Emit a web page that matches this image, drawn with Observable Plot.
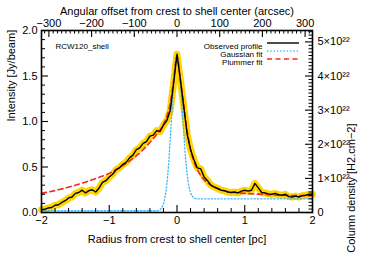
<!DOCTYPE html>
<html><head><meta charset="utf-8">
<script src="https://cdn.jsdelivr.net/npm/d3@7"></script>
<script src="https://cdn.jsdelivr.net/npm/@observablehq/plot@0.6"></script>
<style>body{margin:0;background:#fff}</style>
</head><body><div id="chart"></div>
<script>
// Observed profile (radius in pc, intensity in Jy/beam)
const radius = [-2.00,-1.95,-1.90,-1.85,-1.80,-1.75,-1.70,-1.65,-1.60,-1.55,-1.50,-1.45,-1.40,-1.35,-1.30,-1.25,-1.20,-1.15,-1.10,-1.05,-1.00,-0.95,-0.90,-0.85,-0.80,-0.75,-0.70,-0.65,-0.60,-0.55,-0.50,-0.45,-0.40,-0.35,-0.30,-0.25,-0.20,-0.15,-0.10,-0.05,0.00,0.05,0.10,0.15,0.20,0.25,0.30,0.35,0.40,0.45,0.50,0.55,0.60,0.65,0.70,0.75,0.80,0.85,0.90,0.95,1.00,1.05,1.10,1.15,1.20,1.25,1.30,1.35,1.40,1.45,1.50,1.55,1.60,1.65,1.70,1.75,1.80,1.85,1.90,1.95,2.00];
const observed = [0.03,0.035,0.05,0.055,0.08,0.085,0.11,0.13,0.16,0.17,0.21,0.22,0.245,0.215,0.24,0.25,0.225,0.27,0.33,0.35,0.39,0.42,0.47,0.49,0.53,0.55,0.60,0.63,0.69,0.71,0.76,0.78,0.84,0.85,0.90,0.89,0.96,1.01,1.12,1.42,1.74,1.46,1.16,0.86,0.69,0.58,0.49,0.48,0.39,0.35,0.30,0.28,0.265,0.245,0.24,0.225,0.22,0.225,0.215,0.235,0.245,0.235,0.245,0.32,0.27,0.22,0.215,0.205,0.20,0.21,0.195,0.19,0.20,0.175,0.17,0.18,0.17,0.185,0.19,0.20,0.20];

// Gaussian fit
const gaussR = [-2.0,-0.30,-0.25,-0.20,-0.175,-0.15,-0.125,-0.10,-0.075,-0.05,-0.025,0.0,0.025,0.05,0.075,0.10,0.125,0.15,0.175,0.20,0.225,0.25,0.30,2.0];
const gaussI = [0.02,0.02,0.033,0.095,0.176,0.31,0.52,0.80,1.11,1.42,1.64,1.72,1.64,1.44,1.16,0.87,0.61,0.42,0.29,0.22,0.18,0.16,0.15,0.15];

// Plummer fit
const plumR = [-2.0,-1.75,-1.5,-1.25,-1.0,-0.75,-0.5,-0.4,-0.3,-0.2,-0.1,-0.05,0.0,0.05,0.1,0.15,0.2,0.25,0.3,0.4,0.5,0.6,0.75,1.0,1.25,1.5,2.0];
const plumI = [0.21,0.25,0.30,0.36,0.43,0.54,0.69,0.77,0.86,0.97,1.2,1.45,1.72,1.45,1.17,0.9,0.70,0.56,0.47,0.36,0.30,0.26,0.23,0.21,0.20,0.19,0.185];

// Axis ticks
const xMajor = [-2,-1,0,1,2];
const xMinor = [-1.8,-1.6,-1.4,-1.2,-0.8,-0.6,-0.4,-0.2,0.2,0.4,0.6,0.8,1.2,1.4,1.6,1.8];
const yMajor = [0,0.5,1.0,1.5,2.0];
const yMinor = [0.1,0.2,0.3,0.4,0.6,0.7,0.8,0.9,1.1,1.2,1.3,1.4,1.6,1.7,1.8,1.9];
const arcMajor = [-300,-200,-100,0,100,200,300];
const arcMinor = [-310,-290,-280,-270,-260,-250,-240,-230,-220,-210,-190,-180,-170,-160,-150,-140,-130,-120,-110,-90,-80,-70,-60,-50,-40,-30,-20,-10,10,20,30,40,50,60,70,80,90,110,120,130,140,150,160,170,180,190,210,220,230,240,250,260,270,280,290,310];
const cdMajor = [0,1,2,3,4,5];
const cdLabels = ["0","1×10²²","2×10²²","3×10²²","4×10²²","5×10²²"];
const cdMinor = [0.1,0.2,0.3,0.4,0.5,0.6,0.7,0.8,0.9,1.1,1.2,1.3,1.4,1.5,1.6,1.7,1.8,1.9,2.1,2.2,2.3,2.4,2.5,2.6,2.7,2.8,2.9,3.1,3.2,3.3,3.4,3.5,3.6,3.7,3.8,3.9,4.1,4.2,4.3,4.4,4.5,4.6,4.7,4.8,4.9,5.1,5.2,5.3];

const arcsecPerPc = 158.65;   // 1.3 kpc distance
const cdPerJy = 2.667;        // 10^22 cm^-2 per Jy/beam

const legendNames = ["Observed profile","Gaussian fit","Plummer fit"];
const legendStyles = [
  {stroke: "#000", dash: null, w: 1.4},
  {stroke: "#3db8ff", dash: "1.3,2", w: 1.3},
  {stroke: "#ff2424", dash: "5,3.5", w: 1.6}
];

const obs = radius.map((r,i)=>({r, v: observed[i]}));
const gau = gaussR.map((r,i)=>({r, v: gaussI[i]}));
const plu = plumR.map((r,i)=>({r, v: plumI[i]}));

const W = 369, H = 253, mL = 41, mR = 57, mT = 30, mB = 41;
const pw = W - mL - mR, ph = H - mT - mB;
const font = "Liberation Sans, Arial, sans-serif";

const chart = Plot.plot({
  width: W, height: H,
  marginLeft: mL, marginRight: mR, marginTop: mT, marginBottom: mB,
  x: {domain: [-2, 2], axis: null},
  y: {domain: [0, 2], axis: null},
  style: {fontFamily: font, fontSize: "11px", background: "#fff", color: "#000", overflow: "visible"},
  marks: [
    // yellow error band
    Plot.lineY(obs, {x: "r", y: "v", stroke: "#ffd500", strokeWidth: 7, strokeLinejoin: "round", strokeLinecap: "round"}),
    Plot.lineY(gau, {x: "r", y: "v", stroke: "#3db8ff", strokeWidth: 1.3, strokeDasharray: "1.3,2", curve: "monotone-x"}),
    Plot.lineY(plu, {x: "r", y: "v", stroke: "#ff2424", strokeWidth: 1.6, strokeDasharray: "5,3.5", curve: "monotone-x"}),
    Plot.lineY(obs, {x: "r", y: "v", stroke: "#000", strokeWidth: 1.4, strokeLinejoin: "round"}),
    // frame
    Plot.frame({stroke: "#000", strokeWidth: 1.6}),
    // bottom ticks
    Plot.tickX(xMajor, {x: d => d, insetTop: ph - 7, stroke: "#000", strokeWidth: 1.1}),
    Plot.tickX(xMinor, {x: d => d, insetTop: ph - 4, stroke: "#000", strokeWidth: 1}),
    // top ticks (arcsec)
    Plot.tickX(arcMajor, {x: d => d / arcsecPerPc, insetBottom: ph - 7, stroke: "#000", strokeWidth: 1.1}),
    Plot.tickX(arcMinor, {x: d => d / arcsecPerPc, insetBottom: ph - 3.5, stroke: "#000", strokeWidth: 1}),
    // left ticks
    Plot.tickY(yMajor, {y: d => d, insetRight: pw - 7, stroke: "#000", strokeWidth: 1.1}),
    Plot.tickY(yMinor, {y: d => d, insetRight: pw - 4, stroke: "#000", strokeWidth: 1}),
    // right ticks (column density)
    Plot.tickY(cdMajor, {y: d => d / cdPerJy, insetLeft: pw - 7, stroke: "#000", strokeWidth: 1.1}),
    Plot.tickY(cdMinor, {y: d => d / cdPerJy, insetLeft: pw - 3.5, stroke: "#000", strokeWidth: 1}),
    // tick labels
    Plot.text(xMajor, {x: d => d, frameAnchor: "bottom", dy: 11, text: d => String(d).replace("-", "−"), fontSize: 11}),
    Plot.text(yMajor, {y: d => d, frameAnchor: "left", dx: -4, textAnchor: "end", text: d => d.toFixed(1), fontSize: 11}),
    Plot.text(arcMajor, {x: d => d / arcsecPerPc, frameAnchor: "top", dy: -11, text: d => String(d).replace("-", "−"), fontSize: 11}),
    Plot.text(cdMajor, {y: d => d / cdPerJy, frameAnchor: "right", dx: 5, textAnchor: "start", text: (d, i) => cdLabels[i], fontSize: 11}),
    // axis titles
    Plot.text(["Radius from crest to shell center [pc]"], {frameAnchor: "bottom", dy: 30, fontSize: 11}),
    Plot.text(["Angular offset from crest to shell center (arcsec)"], {frameAnchor: "top", dy: -23, fontSize: 11}),
    Plot.text(["Intensity [Jy/beam]"], {frameAnchor: "left", dx: -30, rotate: -90, fontSize: 11}),
    Plot.text(["Column density [H2.cm−2]"], {frameAnchor: "right", dx: 39, dy: 2, rotate: -90, fontSize: 11}),
    // annotation
    Plot.text(["RCW120_shell"], {frameAnchor: "top-left", dx: 14, dy: 13, textAnchor: "start", fontSize: 8}),
    // legend labels
    ...legendNames.map((name, i) =>
      Plot.text([name], {frameAnchor: "top-right", dx: -50, dy: 13 + i * 8, textAnchor: "end", fontSize: 8}))
  ]
});

document.getElementById("chart").append(chart);

// legend line samples, next to each label
{
  const svg = d3.select(chart);
  legendNames.forEach((name, i) => {
    const x = W - mR - 45, y = mT + 13 + i * 8;
    svg.append("line").attr("x1", x).attr("x2", x + 32).attr("y1", y).attr("y2", y)
      .attr("stroke", legendStyles[i].stroke).attr("stroke-width", legendStyles[i].w)
      .attr("stroke-dasharray", legendStyles[i].dash);
  });
}
</script>
</body></html>
